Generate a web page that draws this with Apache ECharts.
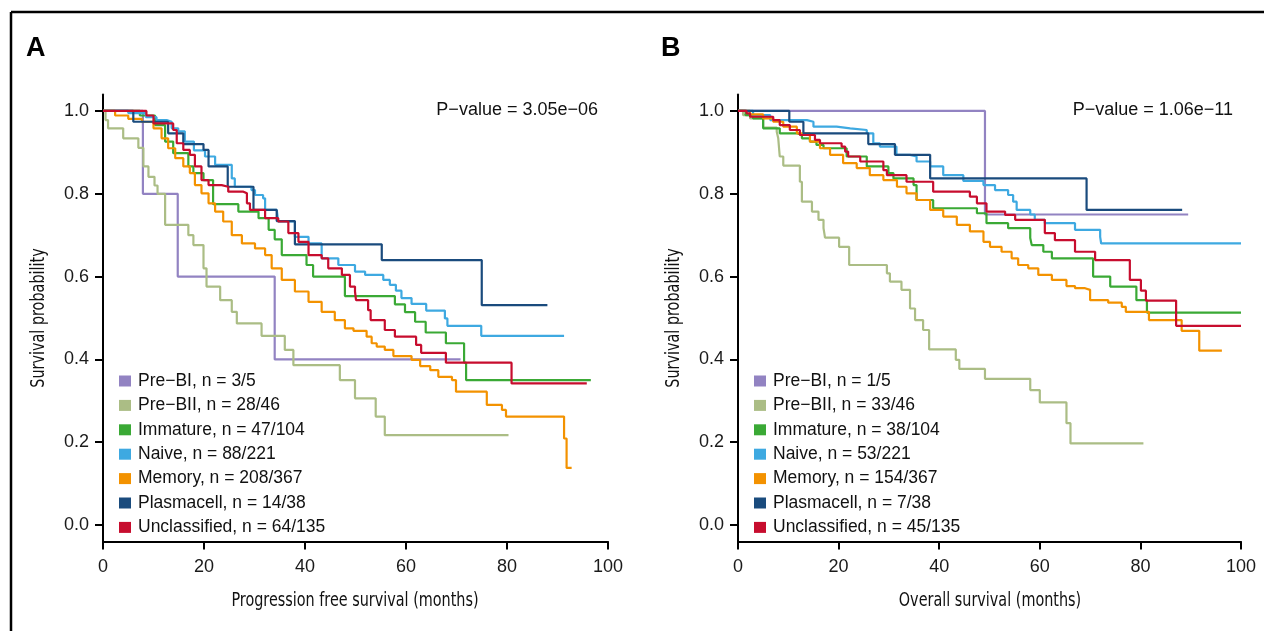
<!DOCTYPE html>
<html>
<head>
<meta charset="utf-8">
<script src="https://cdn.jsdelivr.net/npm/echarts@6/dist/echarts.min.js"></script>
<style>
  html, body { margin: 0; padding: 0; background: #fff; }
  #chart { width: 1264px; height: 631px; }
</style>
</head>
<body>
<div id="chart"></div>
<script>
// groups shown in both panels
const groups = ['Pre−BI', 'Pre−BII', 'Immature', 'Naive', 'Memory', 'Plasmacell', 'Unclassified'];
const pfsCounts = ['3/5', '28/46', '47/104', '88/221', '208/367', '14/38', '64/135'];
const osCounts = ['1/5', '33/46', '38/104', '53/221', '154/367', '7/38', '45/135'];
const pfsPValue = 'P−value = 3.05e−06';
const osPValue = 'P−value = 1.06e−11';
const xTicks = [0, 20, 40, 60, 80, 100];
const yTicks = [0, 0.2, 0.4, 0.6, 0.8, 1.0];

// A: progression free survival, step times (months) and survival
const pfsPreBITime = [0, 7.9, 14.8, 34.0, 70.8];
const pfsPreBISurv = [1, 0.8, 0.6, 0.4, 0.4];
const pfsPreBIITime = [0, 0.5, 1.0, 4.0, 7.0, 8.0, 9.0, 10.2, 10.8, 12.3, 16.9, 17.9, 19.9, 20.5, 23.2, 25.5, 26.5, 31.4, 36.0, 37.7, 46.9, 49.9, 54.0, 55.8, 80.3];
const pfsPreBIISurv = [1, 0.978, 0.958, 0.934, 0.911, 0.866, 0.841, 0.82, 0.80, 0.725, 0.70, 0.676, 0.62, 0.576, 0.543, 0.515, 0.487, 0.457, 0.423, 0.386, 0.35, 0.306, 0.262, 0.217, 0.217];
const pfsImmatureTime = [0, 7.3, 10.3, 12.3, 13.9, 16.9, 17.9, 19.9, 21.8, 26.8, 30.8, 32.8, 34.0, 35.4, 40.3, 41.6, 47.9, 57.8, 59.8, 61.8, 63.9, 67.9, 71.5, 71.9, 96.6];
const pfsImmatureSurv = [1, 0.989, 0.966, 0.926, 0.898, 0.866, 0.85, 0.833, 0.775, 0.757, 0.741, 0.713, 0.69, 0.652, 0.628, 0.60, 0.553, 0.533, 0.514, 0.491, 0.465, 0.439, 0.392, 0.35, 0.35];
const pfsNaiveTime = [0, 5.0, 8.5, 10.6, 12.6, 13.6, 14.9, 16.2, 18.0, 20.2, 22.2, 25.5, 26.1, 29.4, 30.1, 31.7, 32.1, 34.4, 34.7, 38.0, 40.7, 43.3, 46.6, 49.9, 51.9, 55.5, 56.8, 58.0, 59.1, 61.1, 64.0, 67.7, 68.2, 74.9, 91.3];
const pfsNaiveSurv = [1, 0.995, 0.985, 0.978, 0.974, 0.958, 0.951, 0.926, 0.905, 0.89, 0.87, 0.837, 0.817, 0.809, 0.797, 0.789, 0.761, 0.757, 0.733, 0.696, 0.68, 0.644, 0.628, 0.612, 0.604, 0.592, 0.58, 0.566, 0.548, 0.534, 0.518, 0.499, 0.481, 0.457, 0.457];
const pfsMemoryTime = [0, 2.4, 5.0, 7.7, 10.0, 11.6, 12.9, 14.3, 15.9, 17.2, 18.2, 19.5, 20.9, 22.2, 23.8, 25.5, 27.5, 30.1, 32.1, 33.4, 35.4, 38.0, 40.7, 43.3, 45.9, 47.9, 49.6, 52.2, 53.2, 54.2, 55.8, 57.5, 61.1, 62.8, 64.8, 66.4, 69.1, 69.9, 76.0, 79.0, 79.8, 91.3, 91.8, 92.8];
const pfsMemorySurv = [1, 0.989, 0.981, 0.974, 0.958, 0.934, 0.91, 0.886, 0.866, 0.85, 0.821, 0.801, 0.777, 0.757, 0.733, 0.70, 0.68, 0.668, 0.652, 0.62, 0.592, 0.564, 0.539, 0.515, 0.495, 0.475, 0.469, 0.455, 0.439, 0.431, 0.423, 0.408, 0.399, 0.384, 0.374, 0.358, 0.35, 0.322, 0.29, 0.278, 0.262, 0.209, 0.138, 0.138];
const pfsPlasmaTime = [0, 6.0, 12.9, 15.9, 19.9, 20.9, 24.7, 29.8, 34.4, 38.0, 55.2, 75.0, 88.0];
const pfsPlasmaSurv = [1, 0.974, 0.946, 0.92, 0.906, 0.866, 0.817, 0.761, 0.734, 0.678, 0.64, 0.531, 0.531];
const pfsUnclassTime = [0, 8.6, 10.0, 13.9, 14.6, 15.9, 17.2, 18.2, 19.5, 20.9, 23.5, 24.8, 27.8, 28.5, 29.1, 32.1, 34.7, 36.7, 38.7, 40.7, 43.3, 44.6, 47.3, 48.9, 49.9, 50.1, 52.5, 53.0, 55.8, 57.8, 62.0, 63.0, 67.9, 80.9, 95.8];
const pfsUnclassSurv = [1, 0.989, 0.97, 0.954, 0.922, 0.906, 0.894, 0.866, 0.833, 0.821, 0.817, 0.805, 0.801, 0.777, 0.761, 0.741, 0.733, 0.705, 0.684, 0.652, 0.644, 0.62, 0.604, 0.576, 0.564, 0.543, 0.519, 0.495, 0.471, 0.455, 0.435, 0.416, 0.392, 0.342, 0.342];

// B: overall survival
const osPreBITime = [0, 49.1, 89.5];
const osPreBISurv = [1, 0.75, 0.75];
const osPreBIITime = [0, 1.0, 2.4, 5.0, 7.7, 8.0, 8.3, 9.0, 12.3, 12.7, 14.7, 16.0, 17.0, 17.3, 20.1, 22.1, 29.6, 30.2, 32.5, 34.2, 35.2, 36.8, 38.0, 43.3, 44.0, 49.1, 58.1, 60.0, 65.3, 66.1, 80.6];
const osPreBIISurv = [1, 0.99, 0.982, 0.96, 0.95, 0.934, 0.89, 0.868, 0.829, 0.781, 0.757, 0.737, 0.717, 0.694, 0.672, 0.628, 0.608, 0.588, 0.568, 0.523, 0.495, 0.471, 0.424, 0.399, 0.377, 0.353, 0.326, 0.296, 0.246, 0.197, 0.197];
const osImmatureTime = [0, 1.5, 3.0, 5.0, 8.3, 11.7, 12.7, 14.3, 15.6, 17.0, 21.6, 25.6, 29.9, 30.9, 34.9, 35.5, 38.8, 47.5, 49.4, 53.7, 58.1, 58.4, 60.7, 62.4, 70.6, 74.0, 79.2, 81.3, 100];
const osImmatureSurv = [1, 0.99, 0.982, 0.958, 0.946, 0.942, 0.934, 0.926, 0.918, 0.91, 0.89, 0.866, 0.85, 0.837, 0.821, 0.785, 0.765, 0.753, 0.729, 0.717, 0.693, 0.676, 0.66, 0.644, 0.60, 0.576, 0.543, 0.513, 0.513];
const osNaiveTime = [0, 3.0, 6.4, 13.7, 15.0, 19.6, 22.3, 25.6, 26.9, 28.2, 31.5, 34.2, 35.5, 38.2, 40.8, 44.8, 48.8, 51.1, 53.7, 54.7, 55.4, 58.1, 59.0, 61.0, 67.0, 72.0, 72.2, 100];
const osNaiveSurv = [1, 0.99, 0.978, 0.974, 0.962, 0.958, 0.954, 0.946, 0.922, 0.914, 0.894, 0.89, 0.878, 0.866, 0.845, 0.831, 0.821, 0.809, 0.797, 0.781, 0.761, 0.75, 0.737, 0.729, 0.713, 0.696, 0.68, 0.68];
const osMemoryTime = [0, 2.4, 5.0, 7.0, 9.0, 11.7, 14.3, 16.3, 18.3, 20.9, 23.6, 26.2, 28.9, 31.6, 33.5, 35.5, 38.2, 40.8, 43.5, 46.1, 48.8, 50.1, 52.4, 54.4, 55.7, 57.7, 59.7, 62.4, 65.3, 67.0, 69.0, 70.0, 73.6, 76.3, 77.1, 81.7, 88.2, 91.7, 96.2];
const osMemorySurv = [1, 0.992, 0.982, 0.974, 0.962, 0.946, 0.926, 0.91, 0.894, 0.874, 0.862, 0.845, 0.833, 0.817, 0.801, 0.785, 0.761, 0.745, 0.725, 0.709, 0.684, 0.672, 0.66, 0.644, 0.628, 0.62, 0.604, 0.592, 0.577, 0.572, 0.568, 0.543, 0.537, 0.527, 0.515, 0.495, 0.469, 0.421, 0.421];
const osPlasmaTime = [0, 10.2, 13.0, 25.9, 31.2, 38.2, 69.3, 88.3];
const osPlasmaSurv = [1, 0.974, 0.946, 0.92, 0.894, 0.837, 0.761, 0.761];
const osUnclassTime = [0, 1.7, 2.4, 7.0, 8.3, 10.3, 12.3, 15.3, 16.3, 20.6, 21.3, 21.9, 24.3, 28.9, 29.6, 33.5, 38.8, 46.1, 47.5, 49.4, 53.1, 55.1, 61.0, 63.0, 67.0, 71.0, 77.9, 80.1, 81.1, 87.1, 100];
const osUnclassSurv = [1, 0.994, 0.986, 0.978, 0.966, 0.954, 0.942, 0.93, 0.922, 0.914, 0.902, 0.89, 0.878, 0.857, 0.845, 0.829, 0.805, 0.793, 0.777, 0.757, 0.749, 0.737, 0.705, 0.688, 0.66, 0.64, 0.592, 0.566, 0.542, 0.481, 0.481];

const palette = ['#9283c2', '#abbd85', '#3aa935', '#3ea9e1', '#f39200', '#1a4b7d', '#c70d2e'];
const font = "'Liberation Sans', Arial, Helvetica, sans-serif";
const narrowFont = "20px 'Liberation Sans Narrow', 'DejaVu Sans Condensed', sans-serif";

const pfsCurves = [
    [pfsPreBITime, pfsPreBISurv], [pfsPreBIITime, pfsPreBIISurv], [pfsImmatureTime, pfsImmatureSurv],
    [pfsNaiveTime, pfsNaiveSurv], [pfsMemoryTime, pfsMemorySurv], [pfsPlasmaTime, pfsPlasmaSurv],
    [pfsUnclassTime, pfsUnclassSurv]
];
const osCurves = [
    [osPreBITime, osPreBISurv], [osPreBIITime, osPreBIISurv], [osImmatureTime, osImmatureSurv],
    [osNaiveTime, osNaiveSurv], [osMemoryTime, osMemorySurv], [osPlasmaTime, osPlasmaSurv],
    [osUnclassTime, osUnclassSurv]
];
const pfsNames = groups.map((g, i) => g + ', n = ' + pfsCounts[i]);
const osNames = groups.map((g, i) => g + ', n = ' + osCounts[i]);

function makeSeries(curves, names, axis) {
    return curves.map((c, i) => ({
        name: names[i],
        type: 'line',
        step: 'end',
        xAxisIndex: axis,
        yAxisIndex: axis,
        showSymbol: false,
        silent: true,
        color: palette[i],
        lineStyle: { width: 2.2, color: palette[i] },
        data: c[0].map((t, k) => [t, c[1][k]])
    }));
}

function makeX(g) {
    return {
        type: 'value', gridIndex: g, min: 0, max: 100, interval: 20,
        axisLine: { onZero: false, lineStyle: { color: '#000', width: 2 } },
        axisTick: { length: 8, customValues: xTicks, lineStyle: { color: '#000', width: 2 } },
        axisLabel: { margin: 16, customValues: xTicks, fontFamily: font, fontSize: 18, color: '#1a1a1a' },
        splitLine: { show: false }
    };
}
function makeY(g) {
    return {
        type: 'value', gridIndex: g, min: -0.04, max: 1.04,
        axisLine: { onZero: false, lineStyle: { color: '#000', width: 2 } },
        axisTick: { length: 8, customValues: yTicks, lineStyle: { color: '#000', width: 2 } },
        axisLabel: { margin: 14, customValues: yTicks, fontFamily: font, fontSize: 18, color: '#1a1a1a',
            formatter: v => v.toFixed(1) },
        splitLine: { show: false }
    };
}
function makeLegend(names, left) {
    return {
        data: names, orient: 'vertical', left: left, top: 367,
        icon: 'rect', itemWidth: 12, itemHeight: 11, itemGap: 6.4,
        selectedMode: false,
        textStyle: { fontFamily: font, fontSize: 17.5, lineHeight: 18, color: '#111', padding: [0, 0, 0, 2] }
    };
}
function label(text, x, y, rot) {
    return {
        type: 'text', x: x, y: y, rotation: rot, scaleX: 0.8, silent: true,
        style: { text: text, font: narrowFont, fill: '#111', textAlign: 'center', textVerticalAlign: 'middle' }
    };
}

const chart = echarts.init(document.getElementById('chart'));
chart.setOption({
    animation: false,
    backgroundColor: '#fff',
    grid: [
        { left: 103, top: 94.4, width: 505, height: 447.2 },
        { left: 738, top: 94.4, width: 503, height: 447.2 }
    ],
    xAxis: [makeX(0), makeX(1)],
    yAxis: [makeY(0), makeY(1)],
    legend: [makeLegend(pfsNames, 114), makeLegend(osNames, 749)],
    series: makeSeries(pfsCurves, pfsNames, 0).concat(makeSeries(osCurves, osNames, 1)),
    graphic: [
        { type: 'line', shape: { x1: 11, y1: 12, x2: 1264, y2: 12 }, style: { stroke: '#000', lineWidth: 2.5 } },
        { type: 'line', shape: { x1: 11, y1: 12, x2: 11, y2: 631 }, style: { stroke: '#000', lineWidth: 2.5 } },
        { type: 'text', left: 26, top: 35, style: { text: 'A', font: "bold 27px 'Liberation Sans', Arial, sans-serif", fill: '#000' } },
        { type: 'text', left: 661, top: 35, style: { text: 'B', font: "bold 27px 'Liberation Sans', Arial, sans-serif", fill: '#000' } },
        { type: 'text', right: 666, top: 101, style: { text: pfsPValue, font: "18px 'Liberation Sans', Arial, sans-serif", fill: '#111' } },
        { type: 'text', right: 31, top: 101, style: { text: osPValue, font: "18px 'Liberation Sans', Arial, sans-serif", fill: '#111' } },
        label('Progression free survival (months)', 355, 601, 0),
        label('Overall survival (months)', 990, 601, 0),
        label('Survival probability', 39, 318, Math.PI / 2),
        label('Survival probability', 674, 318, Math.PI / 2)
    ]
});
</script>
</body>
</html>
